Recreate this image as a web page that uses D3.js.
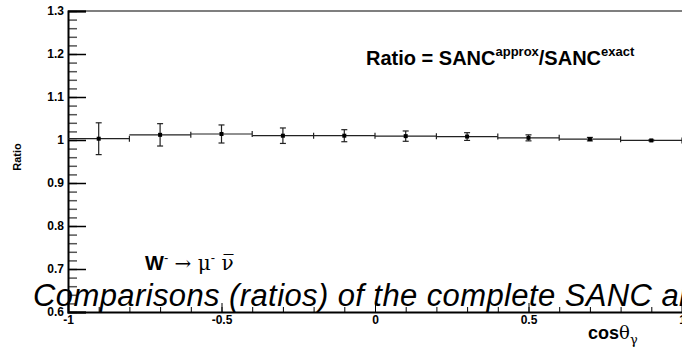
<!DOCTYPE html>
<html>
<head>
<meta charset="utf-8">
<title>SANC ratio</title>
<script src="https://d3js.org/d3.v7.min.js"></script>
<style>
  body { margin: 0; background: #fff; }
  text { font-family: "Liberation Sans", Arial, sans-serif; }
</style>
</head>
<body>
<script>
// bin centres (cos theta_gamma), ratio and its error
const binCenters = [-0.9, -0.7, -0.5, -0.3, -0.1, 0.1, 0.3, 0.5, 0.7, 0.9];
const ratioValues = [1.003, 1.012, 1.014, 1.010, 1.010, 1.009, 1.008, 1.005, 1.002, 0.999];
const ratioErrors = [0.037, 0.026, 0.021, 0.018, 0.014, 0.012, 0.009, 0.007, 0.004, 0.001];
const binHalfWidth = 0.1;

const yTicks = [0.6, 0.7, 0.8, 0.9, 1.0, 1.1, 1.2, 1.3];
const yTickLabels = ["0.6", "0.7", "0.8", "0.9", "1", "1.1", "1.2", "1.3"];
const xTicks = [-1, -0.5, 0, 0.5, 1];
const xTickLabels = ["-1", "-0.5", "0", "0.5", "1"];

const width = 682, height = 350;
const svg = d3.select("body").append("svg")
    .attr("width", width)
    .attr("height", height);

const x = d3.scaleLinear().domain([-1, 1]).range([68, 682]);
const y = d3.scaleLinear().domain([0.6, 1.3]).range([312, 11]);

// top of the frame
svg.append("line").attr("x1", 68).attr("x2", 682).attr("y1", y(1.3)).attr("y2", y(1.3))
    .attr("stroke", "#555").attr("stroke-width", 1.5);

// Y axis (ticks inside the frame)
const yMinor = d3.range(0.6, 1.3001, 0.02);
svg.append("g").attr("transform", `translate(${x(-1)},0)`)
    .call(d3.axisLeft(y).tickValues(yMinor).tickSize(-9).tickFormat(""))
    .call(g => g.select(".domain").remove())
    .selectAll("line").attr("stroke", "#555").attr("stroke-width", 1.5);
const yAxis = svg.append("g").attr("transform", `translate(${x(-1)},0)`)
    .call(d3.axisLeft(y).tickValues(yTicks).tickSize(-18).tickPadding(4)
        .tickFormat((d, i) => yTickLabels[i]));
yAxis.select(".domain").attr("stroke", "#000").attr("stroke-width", 2);
yAxis.selectAll("line").attr("stroke", "#000").attr("stroke-width", 1.5);
yAxis.selectAll("text").attr("font-size", 12).attr("font-weight", "bold")
    .attr("font-family", "Liberation Sans, Arial, sans-serif").attr("fill", "#000");

// X axis
const xMinor = d3.range(-1, 1.0001, 0.1);
svg.append("g").attr("transform", `translate(0,${y(0.6)})`)
    .call(d3.axisBottom(x).tickValues(xMinor).tickSize(-5).tickFormat(""))
    .call(g => g.select(".domain").remove())
    .selectAll("line").attr("stroke", "#000");
const xAxis = svg.append("g").attr("transform", `translate(0,${y(0.6)})`)
    .call(d3.axisBottom(x).tickValues(xTicks).tickSize(-9).tickPadding(3)
        .tickFormat((d, i) => xTickLabels[i]));
xAxis.select(".domain").attr("stroke", "#000").attr("stroke-width", 2);
xAxis.selectAll("line").attr("stroke", "#000");
xAxis.selectAll("text").attr("font-size", 12).attr("font-weight", "bold")
    .attr("font-family", "Liberation Sans, Arial, sans-serif").attr("fill", "#000");

// data points with errors
const pts = svg.append("g").selectAll("g").data(binCenters).join("g");
pts.append("line")
    .attr("x1", d => x(d - binHalfWidth)).attr("x2", d => x(d + binHalfWidth))
    .attr("y1", (d, i) => y(ratioValues[i])).attr("y2", (d, i) => y(ratioValues[i]))
    .attr("stroke", "#222").attr("stroke-width", 1.2);
pts.append("line")
    .attr("x1", d => x(d + binHalfWidth)).attr("x2", d => x(d + binHalfWidth))
    .attr("y1", (d, i) => y(ratioValues[i]) - 3).attr("y2", (d, i) => y(ratioValues[i]) + 3)
    .attr("stroke", "#222").attr("stroke-width", 1.2);
pts.append("line")
    .attr("x1", d => x(d)).attr("x2", d => x(d))
    .attr("y1", (d, i) => y(ratioValues[i] + ratioErrors[i]))
    .attr("y2", (d, i) => y(ratioValues[i] - ratioErrors[i]))
    .attr("stroke", "#222").attr("stroke-width", 1.2);
pts.each(function(d, i) {
    const g = d3.select(this);
    [ratioValues[i] + ratioErrors[i], ratioValues[i] - ratioErrors[i]].forEach(v => {
        g.append("line")
            .attr("x1", x(d) - 3).attr("x2", x(d) + 3)
            .attr("y1", y(v)).attr("y2", y(v))
            .attr("stroke", "#222").attr("stroke-width", 1.2);
    });
});
pts.append("rect")
    .attr("x", d => x(d) - 2).attr("y", (d, i) => y(ratioValues[i]) - 2)
    .attr("width", 4).attr("height", 4).attr("fill", "#000");

// labels
svg.append("text")
    .attr("transform", "translate(21,157) rotate(-90)")
    .attr("text-anchor", "middle")
    .attr("font-size", 11).attr("font-weight", "bold")
    .text("Ratio");

const xl = svg.append("text").attr("x", 588).attr("y", 339).attr("font-size", 18);
xl.append("tspan").attr("font-weight", "bold").text("cos");
xl.append("tspan").attr("font-family", "DejaVu Serif, serif").attr("font-size", 18).text("θ");
xl.append("tspan").attr("font-size", 13).attr("dy", 5).attr("font-family", "DejaVu Serif, serif").text("γ");

const rt = svg.append("text").attr("x", 366).attr("y", 65)
    .attr("font-size", 20).attr("font-weight", "bold");
rt.append("tspan").text("Ratio = SANC");
rt.append("tspan").attr("font-size", 13).attr("dy", -9).text("approx");
rt.append("tspan").attr("dy", 9).text("/SANC");
rt.append("tspan").attr("font-size", 13).attr("dy", -9).text("exact");

const wl = svg.append("text").attr("x", 145).attr("y", 270).attr("font-size", 20);
wl.append("tspan").attr("font-weight", "bold").text("W");
wl.append("tspan").attr("font-size", 13).attr("dy", -8).text("-");
wl.append("tspan").attr("dy", 8).attr("font-family", "DejaVu Serif, serif").text(" → μ");
wl.append("tspan").attr("font-size", 13).attr("dy", -8).text("-");
wl.append("tspan").attr("dy", 8).attr("font-family", "DejaVu Serif, serif").text(" ν\u0305");

svg.append("text").attr("x", 33).attr("y", 306)
    .attr("font-size", 31).attr("font-style", "italic").attr("letter-spacing", 0.4)
    .text("Comparisons (ratios) of the complete SANC and");
</script>
</body>
</html>
